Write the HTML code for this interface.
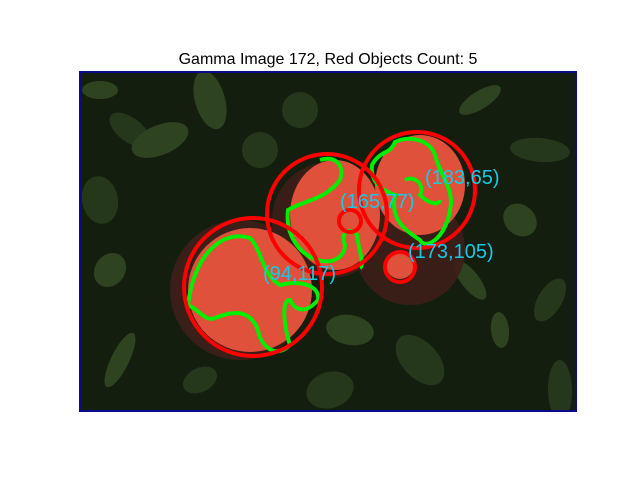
<!DOCTYPE html>
<html><head><meta charset="utf-8"><style>
body{margin:0;background:#fff;}
svg{display:block;font-family:"Liberation Sans",sans-serif;}
</style></head><body>
<svg width="640" height="480">
<defs><clipPath id="clip"><rect x="80" y="72" width="496" height="339"/></clipPath></defs>
<text x="328" y="64" text-anchor="middle" font-size="16" fill="#000">Gamma Image 172, Red Objects Count: 5</text>
<g clip-path="url(#clip)">
<rect x="80" y="72" width="496" height="339" fill="#141e0f"/>
<g id="leaves"></g>
<g fill="#3e1e1a" opacity="0.9">
<circle cx="240" cy="290" r="70"/><circle cx="330" cy="220" r="58"/><circle cx="410" cy="250" r="55"/>
</g>
<g fill="#e0513b">
<ellipse cx="250" cy="290" rx="62" ry="62"/>
<ellipse cx="335" cy="215" rx="45" ry="55"/>
<ellipse cx="420" cy="185" rx="45" ry="50"/>
<ellipse cx="400" cy="265" rx="14" ry="14"/>
</g>
<g fill="none" stroke="#00ee00" stroke-width="4">
<path d="M188,305 C195,250 225,230 250,238 C262,250 262,275 280,285 C300,280 320,285 318,300 C305,315 295,310 290,300 C280,300 285,330 290,345 C275,360 260,345 258,330 C250,310 235,310 215,318 C205,322 200,310 188,305Z"/>
<path d="M320,160 C335,155 345,165 340,180 C325,200 305,200 288,210 C285,235 300,255 318,260 C335,265 345,255 345,245 C340,235 348,225 357,235 C358,248 365,265 360,268"/>
<path d="M395,142 C410,135 430,140 435,155 C440,175 455,190 450,210 C445,240 425,250 420,240 C405,230 390,220 395,195 C380,190 370,180 372,165 C380,150 390,155 395,142Z"/>
<path d="M405,180 C415,175 425,185 420,195 C430,205 440,205 440,200"/>
</g>
<g fill="none" stroke="#ff0000" stroke-width="4">
<circle cx="253" cy="287" r="69"/>
<circle cx="327" cy="214" r="60"/>
<circle cx="417" cy="190" r="58"/>
<circle cx="350" cy="221" r="11"/>
<circle cx="400" cy="267" r="15"/>
</g>
<g fill="#19c8e6" font-size="20">
<text x="425" y="184">(183,65)</text>
<text x="340" y="208">(165,77)</text>
<text x="408" y="258">(173,105)</text>
<text x="263" y="280">(94,117)</text>
</g>
</g>
<rect x="80" y="72" width="496" height="339" fill="none" stroke="#0a0a8a" stroke-width="2"/>
<script>
var leaves=document.getElementById('leaves');
var pts=[[100,90],[130,130],[210,100],[300,110],[480,100],[540,150],[520,220],[100,200],[120,360],[200,380],[350,330],[420,360],[500,330],[550,300],[160,140],[260,150],[470,280],[560,390],[110,270],[330,390]];
pts.forEach(function(p,i){
var e=document.createElementNS('http://www.w3.org/2000/svg','ellipse');


e.setAttribute('cx',p[0]);e.setAttribute('cy',p[1]);
e.setAttribute('rx',18+(i%3)*6);e.setAttribute('ry',9+(i%4)*3);
e.setAttribute('transform','rotate('+(i*37%180)+' '+p[0]+' '+p[1]+')');
e.setAttribute('fill',i%2?'#26381b':'#2e4320');
leaves.appendChild(e);
});
</script>
</svg>
</body></html>
